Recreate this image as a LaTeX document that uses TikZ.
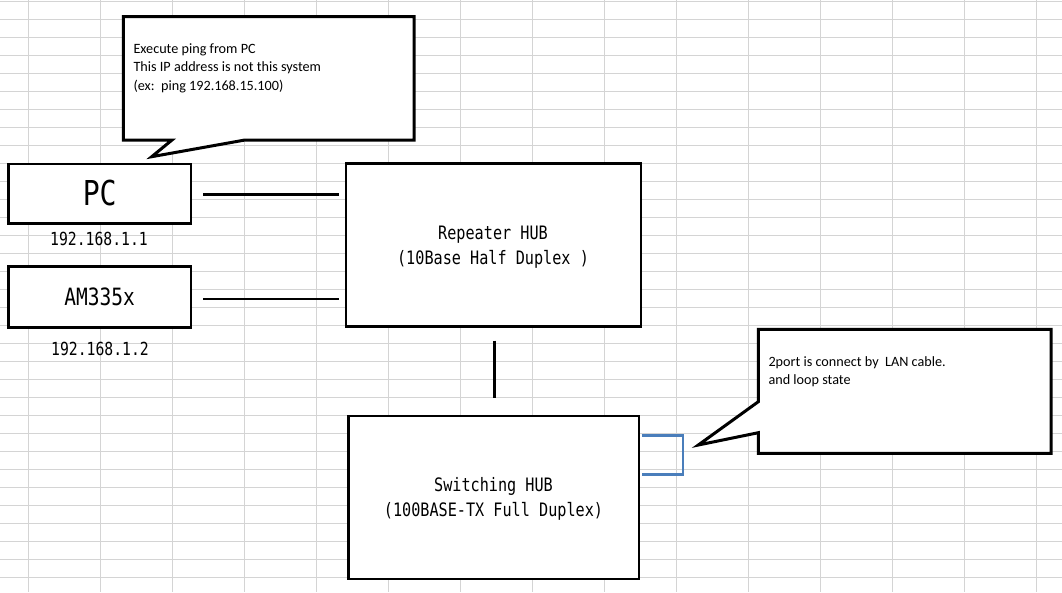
\documentclass[tikz,border=0pt]{standalone}
\usepackage{fontspec}
\setmainfont{Carlito}
\newfontfamily\goth[FakeStretch=0.82]{DejaVu Sans Mono}
\definecolor{gridc}{RGB}{212,212,212}
\definecolor{loopc}{RGB}{74,126,187}
\begin{document}
\begin{tikzpicture}[x=1pt,y=-1pt,
  box/.style={draw=black,fill=white,line width=2.5pt,inner sep=0pt},
  wire/.style={draw=black,line width=2.4pt},
  loopwire/.style={draw=loopc,line width=2.4pt,line join=miter},
  callout/.style={draw=black,fill=white,line width=3pt,line join=miter},
  gt/.style={font=\goth,inner sep=0pt,anchor=base},
  ct/.style={font=\fontsize{14.2}{18.3}\selectfont,inner sep=0pt,anchor=base west}]
\useasboundingbox (0,0) rectangle (1062,592);
\fill[white] (0,0) rectangle (1062,592);
% grid
\foreach \k in {0,...,14} \draw[gridc,line width=1pt] ({28.6+72*\k},0) -- ({28.6+72*\k},592);
\foreach \k in {0,...,32} \draw[gridc,line width=1pt] (0,{1.5+18*\k}) -- (1062,{1.5+18*\k});
% boxes
\node[box,minimum width=182.7pt,minimum height=59.3pt] (pc) at (99.7,193.7) {};
\node[box,minimum width=182.7pt,minimum height=61pt] (am) at (99.7,297.2) {};
\node[box,minimum width=295pt,minimum height=163.4pt] (rep) at (493.5,245) {};
\node[box,minimum width=290.7pt,minimum height=163.3pt] (sw) at (493.7,497.4) {};
% box texts
\node[gt,font=\goth\fontsize{34.3}{34}\selectfont] (pcT) at (99.7,205) {PC};
\node[gt,font=\goth\fontsize{23.8}{24}\selectfont] (amT) at (99.7,305.7) {AM335x};
\node[gt,font=\goth\fontsize{18}{18}\selectfont] (ip1) at (99,245) {192.168.1.1};
\node[gt,font=\goth\fontsize{18}{18}\selectfont] (ip2) at (100,355) {192.168.1.2};
\node[gt,font=\goth\fontsize{18.5}{18}\selectfont] (repT1) at (493,239.3) {Repeater HUB};
\node[gt,font=\goth\fontsize{18.5}{18}\selectfont] (repT2) at (493,264) {(10Base Half Duplex )};
\node[gt,font=\goth\fontsize{18.5}{18}\selectfont] (swT1) at (493.5,491.5) {Switching HUB};
\node[gt,font=\goth\fontsize{18.5}{18}\selectfont] (swT2) at (493.5,516.3) {(100BASE-TX Full Duplex)};
% connectors
\draw[wire] ([xshift=11pt,yshift=-0.6pt]pc.east) -- ([xshift=-6pt,yshift=-0.6pt]pc.east -| rep.west);
\draw[wire] ([xshift=11pt,yshift=-1.8pt]am.east) -- ([xshift=-6pt,yshift=-1.8pt]am.east -| rep.west);
\draw[wire,line width=3pt] ([xshift=0.8pt,yshift=-12.6pt]rep.south) -- ([xshift=0.6pt,yshift=17pt]sw.north);
% loop
\coordinate (lpA) at (641.7,435.3);
\coordinate (lpB) at (682.7,435.3);
\coordinate (lpC) at (682.7,474.3);
\coordinate (lpD) at (641.7,474.3);
\draw[loopwire] (lpA) -- (lpB) -- (lpC) -- (lpD);
% callout 1
\coordinate (c1tl) at (123.3,16.7);
\coordinate (c1tr) at (414,16.7);
\coordinate (c1br) at (414,140);
\coordinate (c1bl) at (123.3,140);
\coordinate (c1p1) at (245,140);
\coordinate (c1tip) at (151.7,156.7);
\coordinate (c1p2) at (172,140);
\path[callout] (c1tl) -- (c1tr) -- (c1br) -- (c1p1) -- (c1tip) -- (c1p2) -- (c1bl) -- cycle;
\node[ct] (c1a) at (133.3,53.3) {Execute ping from PC};
\node[ct] (c1b) at (133.3,71.7) {This IP address is not this system};
\node[ct] (c1c) at (133.3,90) {(ex:\hspace{6.5pt}ping 192.168.15.100)};
% callout 2
\coordinate (c2tl) at (758.3,329.3);
\coordinate (c2tr) at (1051,329.3);
\coordinate (c2br) at (1051,453.3);
\coordinate (c2bl) at (758.3,453.3);
\coordinate (c2p1) at (758.3,432.7);
\coordinate (c2tip) at (698.3,445);
\coordinate (c2p2) at (758.3,401.7);
\path[callout] (c2tl) -- (c2tr) -- (c2br) -- (c2bl) -- (c2p1) -- (c2tip) -- (c2p2) -- cycle;
\node[ct] (c2a) at (768.3,366) {2port is connect by\ \ LAN cable.};
\node[ct] (c2b) at (768.3,384) {and loop state};
\end{tikzpicture}
\end{document}
